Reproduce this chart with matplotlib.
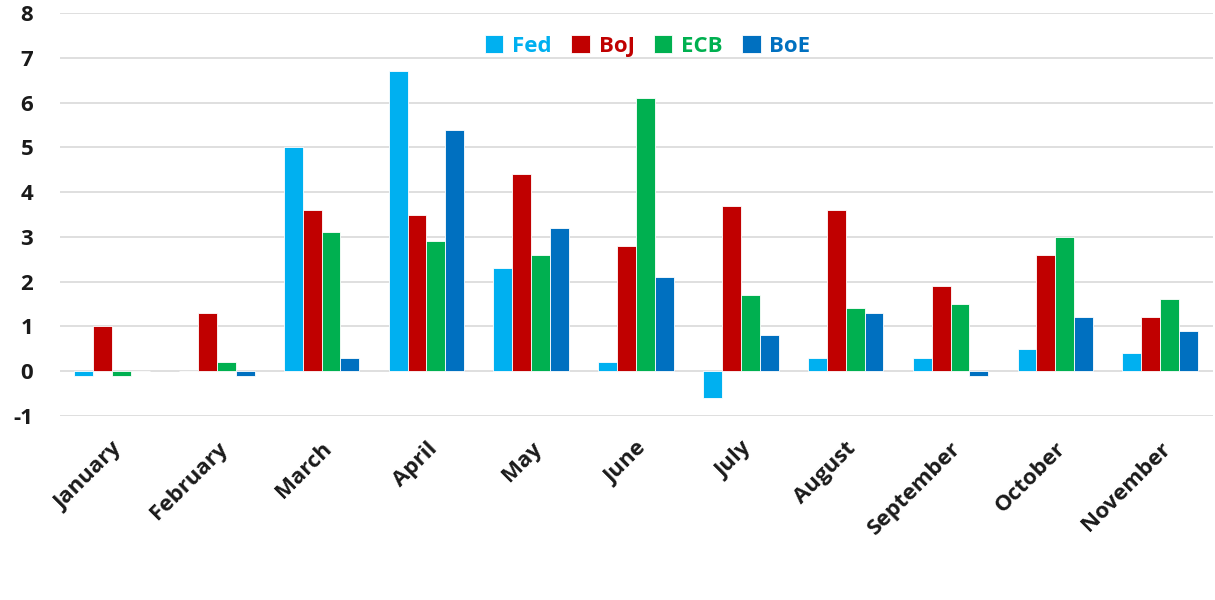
import numpy as np
import matplotlib
matplotlib.use("Agg")
from matplotlib import pyplot as plt

months = ["January", "February", "March", "April", "May", "June",
          "July", "August", "September", "October", "November"]
fed = [-0.1, 0.0, 5.0, 6.7, 2.3, 0.2, -0.6, 0.3, 0.3, 0.5, 0.4]
boj = [1.0, 1.3, 3.6, 3.5, 4.4, 2.8, 3.7, 3.6, 1.9, 2.6, 1.2]
ecb = [-0.1, 0.2, 3.1, 2.9, 2.6, 6.1, 1.7, 1.4, 1.5, 3.0, 1.6]
boe = [0.0, -0.1, 0.3, 5.4, 3.2, 2.1, 0.8, 1.3, -0.1, 1.2, 0.9]

series = ["Fed", "BoJ", "ECB", "BoE"]
colors = ["#00B0F0", "#C00000", "#00B050", "#0070C0"]

plt.rcParams['font.family'] = ['Open Sans', 'DejaVu Sans']

fig = plt.figure(figsize=(12.15, 6), dpi=100)
ax = fig.add_axes([0.049, 0.307, 0.949, 0.671])

x = np.arange(len(months))
w = 0.18
for i, (name, vals, c) in enumerate(zip(series, [fed, boj, ecb, boe], colors)):
    ax.bar(x + (i - 1.5) * w, vals, width=w, color=c, edgecolor="white",
           linewidth=0.6, label=name, zorder=3)

ax.set_xlim(-0.5, len(months) - 0.5)
ax.set_ylim(-1, 8)
ax.set_yticks(range(-1, 9))
ax.grid(axis="y", color="#d9d9d9", linewidth=1.2, zorder=0)
for s in ax.spines.values():
    s.set_visible(False)
ax.tick_params(length=0)
ax.tick_params(axis="y", pad=19)
ax.tick_params(axis="x", pad=16)
ax.set_yticklabels([str(v) for v in range(-1, 9)], fontsize=16,
                   fontweight="bold", color="#1a1a1a")
ax.set_xticks(x)
ax.set_xticklabels(months, rotation=45, ha="right", rotation_mode="anchor",
                   fontsize=16, fontweight="bold", color="#1a1a1a")

leg = ax.legend(loc="upper center", bbox_to_anchor=(0.51, 0.995), ncol=4,
                frameon=False, handlelength=0.85, handleheight=0.85,
                handletextpad=0.4, columnspacing=0.85,
                prop={"size": 16, "weight": "bold"})
for t, c in zip(leg.get_texts(), colors):
    t.set_color(c)

fig.savefig("out.png", dpi=100)
